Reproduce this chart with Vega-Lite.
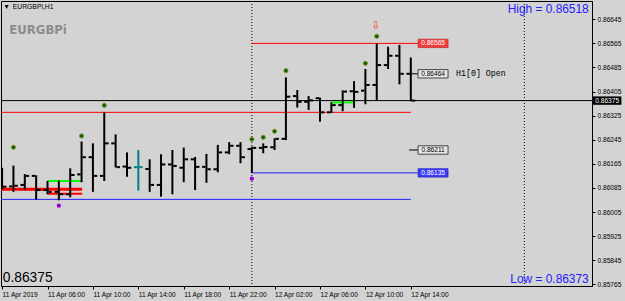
{
 "$schema": "https://vega.github.io/schema/vega-lite/v6.json",
 "width": 591, "height": 285,
 "autosize": {"type": "none"},
 "padding": {"left": 1, "top": 1, "right": 33, "bottom": 15},
 "background": "#D3D3D3",
 "config": {
  "view": {"stroke": "#000000", "strokeWidth": 1, "fill": "#D3D3D3"},
  "font": "Liberation Sans",
  "axis": {"grid": false, "domain": true, "domainColor": "#000000", "ticks": true, "tickColor": "#000000", "tickSize": 3,
   "labelFont": "Liberation Sans", "labelFontSize": 6.6, "labelColor": "#000000", "labelPadding": 2, "labelFlush": false, "labelOverlap": false}
 },
 "datasets": {
  "bars": [
   {"h": 2, "o": 0.86085, "hi": 0.86152, "lo": 0.86080, "c": 0.86089},
   {"h": 3, "o": 0.86090, "hi": 0.86159, "lo": 0.86072, "c": 0.86092},
   {"h": 4, "o": 0.86095, "hi": 0.86131, "lo": 0.86078, "c": 0.86125},
   {"h": 5, "o": 0.86125, "hi": 0.86127, "lo": 0.86047, "c": 0.86078},
   {"h": 6, "o": 0.86078, "hi": 0.86108, "lo": 0.86064, "c": 0.86072},
   {"h": 7, "o": 0.86072, "hi": 0.86110, "lo": 0.86044, "c": 0.86064},
   {"h": 8, "o": 0.86064, "hi": 0.86150, "lo": 0.86054, "c": 0.86128},
   {"h": 9, "o": 0.86130, "hi": 0.86239, "lo": 0.86104, "c": 0.86187},
   {"h": 10, "o": 0.86187, "hi": 0.86233, "lo": 0.86072, "c": 0.86125},
   {"h": 11, "o": 0.86125, "hi": 0.86336, "lo": 0.86108, "c": 0.86233},
   {"h": 12, "o": 0.86233, "hi": 0.86263, "lo": 0.86153, "c": 0.86154},
   {"h": 13, "o": 0.86156, "hi": 0.86203, "lo": 0.86122, "c": 0.86152},
   {"h": 14, "o": 0.86154, "hi": 0.86211, "lo": 0.86076, "c": 0.86154},
   {"h": 15, "o": 0.86148, "hi": 0.86180, "lo": 0.86072, "c": 0.86095},
   {"h": 16, "o": 0.86095, "hi": 0.86197, "lo": 0.86056, "c": 0.86163},
   {"h": 17, "o": 0.86163, "hi": 0.86211, "lo": 0.86064, "c": 0.86158},
   {"h": 18, "o": 0.86152, "hi": 0.86219, "lo": 0.86104, "c": 0.86180},
   {"h": 19, "o": 0.86180, "hi": 0.86188, "lo": 0.86078, "c": 0.86155},
   {"h": 20, "o": 0.86155, "hi": 0.86198, "lo": 0.86102, "c": 0.86147},
   {"h": 21, "o": 0.86147, "hi": 0.86228, "lo": 0.86137, "c": 0.86203},
   {"h": 22, "o": 0.86203, "hi": 0.86237, "lo": 0.86197, "c": 0.86225},
   {"h": 23, "o": 0.86225, "hi": 0.86237, "lo": 0.86167, "c": 0.86187},
   {"h": 24, "o": 0.86214, "hi": 0.86222, "lo": 0.86135, "c": 0.86218},
   {"h": 25, "o": 0.86218, "hi": 0.86233, "lo": 0.86200, "c": 0.86221},
   {"h": 26, "o": 0.86220, "hi": 0.86250, "lo": 0.86211, "c": 0.86248},
   {"h": 27, "o": 0.86248, "hi": 0.86452, "lo": 0.86244, "c": 0.86388},
   {"h": 28, "o": 0.86390, "hi": 0.86410, "lo": 0.86352, "c": 0.86371},
   {"h": 29, "o": 0.86371, "hi": 0.86390, "lo": 0.86344, "c": 0.86376},
   {"h": 30, "o": 0.86383, "hi": 0.86385, "lo": 0.86305, "c": 0.86336},
   {"h": 31, "o": 0.86336, "hi": 0.86369, "lo": 0.86334, "c": 0.86360},
   {"h": 32, "o": 0.86360, "hi": 0.86409, "lo": 0.86340, "c": 0.86405},
   {"h": 33, "o": 0.86406, "hi": 0.86440, "lo": 0.86351, "c": 0.86404},
   {"h": 34, "o": 0.86408, "hi": 0.86480, "lo": 0.86363, "c": 0.86427},
   {"h": 35, "o": 0.86427, "hi": 0.86565, "lo": 0.86376, "c": 0.86493},
   {"h": 36, "o": 0.86493, "hi": 0.86554, "lo": 0.86480, "c": 0.86524},
   {"h": 37, "o": 0.86524, "hi": 0.86560, "lo": 0.86429, "c": 0.86464},
   {"h": 38, "o": 0.86464, "hi": 0.86518, "lo": 0.86373, "c": 0.86375}
  ]
 },
 "layer": [
  {
   "data": {"values": [{"h": 24}, {"h": 48}]},
   "mark": {"type": "rule", "color": "#000000", "strokeWidth": 1, "strokeDash": [1, 2]},
   "encoding": {
    "x": {"field": "h", "type": "quantitative", "scale": {"domain": [1.904, 53.96], "nice": false, "zero": false},
     "axis": {"orient": "bottom", "values": [2, 6, 10, 14, 18, 22, 26, 30, 34, 38], "labelExpr": "datum.value == 2 ? '11 Apr 2019' : (datum.value < 24 ? '11 Apr ' : '12 Apr ') + (datum.value % 24 < 10 ? '0' : '') + (datum.value % 24) + ':00'", "labelAlign": "left", "title": null}}
   }
  },
  {
   "data": {"values": [{"v": 0.86336, "h": 0, "h2": 38}, {"v": 0.86565, "h": 24, "h2": 38.64}]},
   "mark": {"type": "rule", "color": "#FF0000", "strokeWidth": 1, "clip": true},
   "encoding": {
    "x": {"field": "h", "type": "quantitative", "scale": {"domain": [1.904, 53.96], "nice": false, "zero": false},
     "axis": {"orient": "bottom", "values": [2, 6, 10, 14, 18, 22, 26, 30, 34, 38], "labelExpr": "datum.value == 2 ? '11 Apr 2019' : (datum.value < 24 ? '11 Apr ' : '12 Apr ') + (datum.value % 24 < 10 ? '0' : '') + (datum.value % 24) + ':00'", "labelAlign": "left", "title": null}},
    "x2": {"field": "h2"},
    "y": {"field": "v", "type": "quantitative", "scale": {"domain": [0.857593, 0.867058], "nice": false, "zero": false},
     "axis": {"orient": "right", "values": [0.85765, 0.85845, 0.85925, 0.86005, 0.86085, 0.86165, 0.86245, 0.86325, 0.86405, 0.86485, 0.86565, 0.86645], "format": ".5f", "title": null}}
   }
  },
  {
   "data": {"values": [{"v": 0.86047, "h": 0, "h2": 38}, {"v": 0.86135, "h": 24, "h2": 38.64}]},
   "mark": {"type": "rule", "color": "#2020FF", "strokeWidth": 1, "clip": true},
   "encoding": {
    "x": {"field": "h", "type": "quantitative", "scale": {"domain": [1.904, 53.96], "nice": false, "zero": false},
     "axis": {"orient": "bottom", "values": [2, 6, 10, 14, 18, 22, 26, 30, 34, 38], "labelExpr": "datum.value == 2 ? '11 Apr 2019' : (datum.value < 24 ? '11 Apr ' : '12 Apr ') + (datum.value % 24 < 10 ? '0' : '') + (datum.value % 24) + ':00'", "labelAlign": "left", "title": null}},
    "x2": {"field": "h2"},
    "y": {"field": "v", "type": "quantitative", "scale": {"domain": [0.857593, 0.867058], "nice": false, "zero": false},
     "axis": {"orient": "right", "values": [0.85765, 0.85845, 0.85925, 0.86005, 0.86085, 0.86165, 0.86245, 0.86325, 0.86405, 0.86485, 0.86565, 0.86645], "format": ".5f", "title": null}}
   }
  },
  {
   "data": {"values": [{"v": 0.86375, "h": 0, "h2": 60}, {"v": 0.86464, "h": 37.84, "h2": 38.64}, {"v": 0.86211, "h": 37.84, "h2": 38.64}]},
   "mark": {"type": "rule", "color": "#000000", "strokeWidth": 1, "clip": true},
   "encoding": {
    "x": {"field": "h", "type": "quantitative", "scale": {"domain": [1.904, 53.96], "nice": false, "zero": false},
     "axis": {"orient": "bottom", "values": [2, 6, 10, 14, 18, 22, 26, 30, 34, 38], "labelExpr": "datum.value == 2 ? '11 Apr 2019' : (datum.value < 24 ? '11 Apr ' : '12 Apr ') + (datum.value % 24 < 10 ? '0' : '') + (datum.value % 24) + ':00'", "labelAlign": "left", "title": null}},
    "x2": {"field": "h2"},
    "y": {"field": "v", "type": "quantitative", "scale": {"domain": [0.857593, 0.867058], "nice": false, "zero": false},
     "axis": {"orient": "right", "values": [0.85765, 0.85845, 0.85925, 0.86005, 0.86085, 0.86165, 0.86245, 0.86325, 0.86405, 0.86485, 0.86565, 0.86645], "format": ".5f", "title": null}}
   }
  },
  {
   "data": {"values": [{"v": 0.86108, "h": 6, "h2": 9.05}, {"v": 0.86369, "h": 31, "h2": 32.93}]},
   "mark": {"type": "rule", "color": "#00FF00", "strokeWidth": 2, "clip": true},
   "encoding": {
    "x": {"field": "h", "type": "quantitative", "scale": {"domain": [1.904, 53.96], "nice": false, "zero": false},
     "axis": {"orient": "bottom", "values": [2, 6, 10, 14, 18, 22, 26, 30, 34, 38], "labelExpr": "datum.value == 2 ? '11 Apr 2019' : (datum.value < 24 ? '11 Apr ' : '12 Apr ') + (datum.value % 24 < 10 ? '0' : '') + (datum.value % 24) + ':00'", "labelAlign": "left", "title": null}},
    "x2": {"field": "h2"},
    "y": {"field": "v", "type": "quantitative", "scale": {"domain": [0.857593, 0.867058], "nice": false, "zero": false},
     "axis": {"orient": "right", "values": [0.85765, 0.85845, 0.85925, 0.86005, 0.86085, 0.86165, 0.86245, 0.86325, 0.86405, 0.86485, 0.86565, 0.86645], "format": ".5f", "title": null}}
   }
  },
  {
   "data": {"values": [{"v": 0.86081, "h": 0, "h2": 9.05}]},
   "mark": {"type": "rule", "color": "#FF0000", "strokeWidth": 3, "clip": true},
   "encoding": {
    "x": {"field": "h", "type": "quantitative", "scale": {"domain": [1.904, 53.96], "nice": false, "zero": false},
     "axis": {"orient": "bottom", "values": [2, 6, 10, 14, 18, 22, 26, 30, 34, 38], "labelExpr": "datum.value == 2 ? '11 Apr 2019' : (datum.value < 24 ? '11 Apr ' : '12 Apr ') + (datum.value % 24 < 10 ? '0' : '') + (datum.value % 24) + ':00'", "labelAlign": "left", "title": null}},
    "x2": {"field": "h2"},
    "y": {"field": "v", "type": "quantitative", "scale": {"domain": [0.857593, 0.867058], "nice": false, "zero": false},
     "axis": {"orient": "right", "values": [0.85765, 0.85845, 0.85925, 0.86005, 0.86085, 0.86165, 0.86245, 0.86325, 0.86405, 0.86485, 0.86565, 0.86645], "format": ".5f", "title": null}}
   }
  },
  {
   "data": {"values": [{"v": 0.86066, "h": 6, "h2": 9.05}]},
   "mark": {"type": "rule", "color": "#FF0000", "strokeWidth": 2, "clip": true},
   "encoding": {
    "x": {"field": "h", "type": "quantitative", "scale": {"domain": [1.904, 53.96], "nice": false, "zero": false},
     "axis": {"orient": "bottom", "values": [2, 6, 10, 14, 18, 22, 26, 30, 34, 38], "labelExpr": "datum.value == 2 ? '11 Apr 2019' : (datum.value < 24 ? '11 Apr ' : '12 Apr ') + (datum.value % 24 < 10 ? '0' : '') + (datum.value % 24) + ':00'", "labelAlign": "left", "title": null}},
    "x2": {"field": "h2"},
    "y": {"field": "v", "type": "quantitative", "scale": {"domain": [0.857593, 0.867058], "nice": false, "zero": false},
     "axis": {"orient": "right", "values": [0.85765, 0.85845, 0.85925, 0.86005, 0.86085, 0.86165, 0.86245, 0.86325, 0.86405, 0.86485, 0.86565, 0.86645], "format": ".5f", "title": null}}
   }
  },
  {
   "data": {"name": "bars"},
   "mark": {"type": "rule", "strokeWidth": 2, "clip": true},
   "encoding": {
    "x": {"field": "h", "type": "quantitative", "scale": {"domain": [1.904, 53.96], "nice": false, "zero": false},
     "axis": {"orient": "bottom", "values": [2, 6, 10, 14, 18, 22, 26, 30, 34, 38], "labelExpr": "datum.value == 2 ? '11 Apr 2019' : (datum.value < 24 ? '11 Apr ' : '12 Apr ') + (datum.value % 24 < 10 ? '0' : '') + (datum.value % 24) + ':00'", "labelAlign": "left", "title": null}},
    "y": {"field": "lo", "type": "quantitative", "scale": {"domain": [0.857593, 0.867058], "nice": false, "zero": false},
     "axis": {"orient": "right", "values": [0.85765, 0.85845, 0.85925, 0.86005, 0.86085, 0.86165, 0.86245, 0.86325, 0.86405, 0.86485, 0.86565, 0.86645], "format": ".5f", "title": null}},
    "y2": {"field": "hi"},
    "color": {"condition": {"test": "datum.o == datum.c", "value": "#008080"}, "value": "#000000"}
   }
  },
  {
   "data": {"name": "bars"},
   "mark": {"type": "tick", "orient": "horizontal", "size": 3.5, "thickness": 2, "xOffset": -2.6, "opacity": 1, "clip": true},
   "encoding": {
    "x": {"field": "h", "type": "quantitative", "scale": {"domain": [1.904, 53.96], "nice": false, "zero": false},
     "axis": {"orient": "bottom", "values": [2, 6, 10, 14, 18, 22, 26, 30, 34, 38], "labelExpr": "datum.value == 2 ? '11 Apr 2019' : (datum.value < 24 ? '11 Apr ' : '12 Apr ') + (datum.value % 24 < 10 ? '0' : '') + (datum.value % 24) + ':00'", "labelAlign": "left", "title": null}},
    "y": {"field": "o", "type": "quantitative", "scale": {"domain": [0.857593, 0.867058], "nice": false, "zero": false},
     "axis": {"orient": "right", "values": [0.85765, 0.85845, 0.85925, 0.86005, 0.86085, 0.86165, 0.86245, 0.86325, 0.86405, 0.86485, 0.86565, 0.86645], "format": ".5f", "title": null}},
    "color": {"condition": {"test": "datum.o == datum.c", "value": "#008080"}, "value": "#000000"}
   }
  },
  {
   "data": {"name": "bars"},
   "mark": {"type": "tick", "orient": "horizontal", "size": 3.5, "thickness": 2, "xOffset": 2.6, "opacity": 1, "clip": true},
   "encoding": {
    "x": {"field": "h", "type": "quantitative", "scale": {"domain": [1.904, 53.96], "nice": false, "zero": false},
     "axis": {"orient": "bottom", "values": [2, 6, 10, 14, 18, 22, 26, 30, 34, 38], "labelExpr": "datum.value == 2 ? '11 Apr 2019' : (datum.value < 24 ? '11 Apr ' : '12 Apr ') + (datum.value % 24 < 10 ? '0' : '') + (datum.value % 24) + ':00'", "labelAlign": "left", "title": null}},
    "y": {"field": "c", "type": "quantitative", "scale": {"domain": [0.857593, 0.867058], "nice": false, "zero": false},
     "axis": {"orient": "right", "values": [0.85765, 0.85845, 0.85925, 0.86005, 0.86085, 0.86165, 0.86245, 0.86325, 0.86405, 0.86485, 0.86565, 0.86645], "format": ".5f", "title": null}},
    "color": {"condition": {"test": "datum.o == datum.c", "value": "#008080"}, "value": "#000000"}
   }
  },
  {
   "data": {"values": [
    {"h": 3, "v": 0.862199}, {"h": 9, "v": 0.862575}, {"h": 11, "v": 0.863594},
    {"h": 24, "v": 0.862465}, {"h": 25, "v": 0.862531}, {"h": 26, "v": 0.862731},
    {"h": 27, "v": 0.864743}, {"h": 34, "v": 0.864989}, {"h": 35, "v": 0.865886}]},
   "mark": {"type": "point", "shape": "circle", "filled": true, "size": 18, "color": "#0A640A", "stroke": "#8C8C20", "strokeWidth": 0.8, "opacity": 1},
   "encoding": {
    "x": {"field": "h", "type": "quantitative", "scale": {"domain": [1.904, 53.96], "nice": false, "zero": false},
     "axis": {"orient": "bottom", "values": [2, 6, 10, 14, 18, 22, 26, 30, 34, 38], "labelExpr": "datum.value == 2 ? '11 Apr 2019' : (datum.value < 24 ? '11 Apr ' : '12 Apr ') + (datum.value % 24 < 10 ? '0' : '') + (datum.value % 24) + ':00'", "labelAlign": "left", "title": null}},
    "y": {"field": "v", "type": "quantitative", "scale": {"domain": [0.857593, 0.867058], "nice": false, "zero": false},
     "axis": {"orient": "right", "values": [0.85765, 0.85845, 0.85925, 0.86005, 0.86085, 0.86165, 0.86245, 0.86325, 0.86405, 0.86485, 0.86565, 0.86645], "format": ".5f", "title": null}}
   }
  },
  {
   "data": {"values": [{"h": 7, "v": 0.86026}, {"h": 24, "v": 0.861156}]},
   "mark": {"type": "point", "shape": "circle", "filled": true, "size": 18, "color": "#9400D3", "opacity": 1},
   "encoding": {
    "x": {"field": "h", "type": "quantitative", "scale": {"domain": [1.904, 53.96], "nice": false, "zero": false},
     "axis": {"orient": "bottom", "values": [2, 6, 10, 14, 18, 22, 26, 30, 34, 38], "labelExpr": "datum.value == 2 ? '11 Apr 2019' : (datum.value < 24 ? '11 Apr ' : '12 Apr ') + (datum.value % 24 < 10 ? '0' : '') + (datum.value % 24) + ':00'", "labelAlign": "left", "title": null}},
    "y": {"field": "v", "type": "quantitative", "scale": {"domain": [0.857593, 0.867058], "nice": false, "zero": false},
     "axis": {"orient": "right", "values": [0.85765, 0.85845, 0.85925, 0.86005, 0.86085, 0.86165, 0.86245, 0.86325, 0.86405, 0.86485, 0.86565, 0.86645], "format": ".5f", "title": null}}
   }
  },
  {
   "data": {"values": [{"h": 38.64, "h2": 41.28, "v": 0.865511, "v2": 0.865789}]},
   "mark": {"type": "rect", "color": "#F03C3C", "stroke": "#C83030", "strokeWidth": 0.8},
   "encoding": {
    "x": {"field": "h", "type": "quantitative", "scale": {"domain": [1.904, 53.96], "nice": false, "zero": false},
     "axis": {"orient": "bottom", "values": [2, 6, 10, 14, 18, 22, 26, 30, 34, 38], "labelExpr": "datum.value == 2 ? '11 Apr 2019' : (datum.value < 24 ? '11 Apr ' : '12 Apr ') + (datum.value % 24 < 10 ? '0' : '') + (datum.value % 24) + ':00'", "labelAlign": "left", "title": null}},
    "x2": {"field": "h2"},
    "y": {"field": "v", "type": "quantitative", "scale": {"domain": [0.857593, 0.867058], "nice": false, "zero": false},
     "axis": {"orient": "right", "values": [0.85765, 0.85845, 0.85925, 0.86005, 0.86085, 0.86165, 0.86245, 0.86325, 0.86405, 0.86485, 0.86565, 0.86645], "format": ".5f", "title": null}},
    "y2": {"field": "v2"}
   }
  },
  {
   "data": {"values": [{"h": 38.64, "h2": 41.28, "v": 0.861211, "v2": 0.861489}]},
   "mark": {"type": "rect", "color": "#3C3CF0", "stroke": "#3030C8", "strokeWidth": 0.8},
   "encoding": {
    "x": {"field": "h", "type": "quantitative", "scale": {"domain": [1.904, 53.96], "nice": false, "zero": false},
     "axis": {"orient": "bottom", "values": [2, 6, 10, 14, 18, 22, 26, 30, 34, 38], "labelExpr": "datum.value == 2 ? '11 Apr 2019' : (datum.value < 24 ? '11 Apr ' : '12 Apr ') + (datum.value % 24 < 10 ? '0' : '') + (datum.value % 24) + ':00'", "labelAlign": "left", "title": null}},
    "x2": {"field": "h2"},
    "y": {"field": "v", "type": "quantitative", "scale": {"domain": [0.857593, 0.867058], "nice": false, "zero": false},
     "axis": {"orient": "right", "values": [0.85765, 0.85845, 0.85925, 0.86005, 0.86085, 0.86165, 0.86245, 0.86325, 0.86405, 0.86485, 0.86565, 0.86645], "format": ".5f", "title": null}},
    "y2": {"field": "v2"}
   }
  },
  {
   "data": {"values": [{"h": 38.64, "h2": 41.28, "v": 0.864501, "v2": 0.864779}, {"h": 38.64, "h2": 41.28, "v": 0.861971, "v2": 0.862249}]},
   "mark": {"type": "rect", "color": "#E6E6E6", "stroke": "#202020", "strokeWidth": 0.8},
   "encoding": {
    "x": {"field": "h", "type": "quantitative", "scale": {"domain": [1.904, 53.96], "nice": false, "zero": false},
     "axis": {"orient": "bottom", "values": [2, 6, 10, 14, 18, 22, 26, 30, 34, 38], "labelExpr": "datum.value == 2 ? '11 Apr 2019' : (datum.value < 24 ? '11 Apr ' : '12 Apr ') + (datum.value % 24 < 10 ? '0' : '') + (datum.value % 24) + ':00'", "labelAlign": "left", "title": null}},
    "x2": {"field": "h2"},
    "y": {"field": "v", "type": "quantitative", "scale": {"domain": [0.857593, 0.867058], "nice": false, "zero": false},
     "axis": {"orient": "right", "values": [0.85765, 0.85845, 0.85925, 0.86005, 0.86085, 0.86165, 0.86245, 0.86325, 0.86405, 0.86485, 0.86565, 0.86645], "format": ".5f", "title": null}},
    "y2": {"field": "v2"}
   }
  },
  {
   "data": {"values": [{"h": 54.05, "h2": 56.55, "v": 0.863611, "v2": 0.863889}]},
   "mark": {"type": "rect", "color": "#000000"},
   "encoding": {
    "x": {"field": "h", "type": "quantitative", "scale": {"domain": [1.904, 53.96], "nice": false, "zero": false},
     "axis": {"orient": "bottom", "values": [2, 6, 10, 14, 18, 22, 26, 30, 34, 38], "labelExpr": "datum.value == 2 ? '11 Apr 2019' : (datum.value < 24 ? '11 Apr ' : '12 Apr ') + (datum.value % 24 < 10 ? '0' : '') + (datum.value % 24) + ':00'", "labelAlign": "left", "title": null}},
    "x2": {"field": "h2"},
    "y": {"field": "v", "type": "quantitative", "scale": {"domain": [0.857593, 0.867058], "nice": false, "zero": false},
     "axis": {"orient": "right", "values": [0.85765, 0.85845, 0.85925, 0.86005, 0.86085, 0.86165, 0.86245, 0.86325, 0.86405, 0.86485, 0.86565, 0.86645], "format": ".5f", "title": null}},
    "y2": {"field": "v2"}
   }
  },
  {
   "data": {"values": [{"h": 39.96, "v": 0.86565, "t": "0.86565"}, {"h": 39.96, "v": 0.86135, "t": "0.86135"}, {"h": 55.3, "v": 0.86375, "t": "0.86375"}]},
   "mark": {"type": "text", "font": "Liberation Sans", "fontSize": 6.6, "color": "#FFFFFF", "align": "center", "baseline": "middle"},
   "encoding": {
    "x": {"field": "h", "type": "quantitative", "scale": {"domain": [1.904, 53.96], "nice": false, "zero": false},
     "axis": {"orient": "bottom", "values": [2, 6, 10, 14, 18, 22, 26, 30, 34, 38], "labelExpr": "datum.value == 2 ? '11 Apr 2019' : (datum.value < 24 ? '11 Apr ' : '12 Apr ') + (datum.value % 24 < 10 ? '0' : '') + (datum.value % 24) + ':00'", "labelAlign": "left", "title": null}},
    "y": {"field": "v", "type": "quantitative", "scale": {"domain": [0.857593, 0.867058], "nice": false, "zero": false},
     "axis": {"orient": "right", "values": [0.85765, 0.85845, 0.85925, 0.86005, 0.86085, 0.86165, 0.86245, 0.86325, 0.86405, 0.86485, 0.86565, 0.86645], "format": ".5f", "title": null}},
    "text": {"field": "t"}
   }
  },
  {
   "data": {"values": [{"h": 39.96, "v": 0.86464, "t": "0.86464"}, {"h": 39.96, "v": 0.86211, "t": "0.86211"}]},
   "mark": {"type": "text", "font": "Liberation Sans", "fontSize": 6.6, "color": "#000000", "align": "center", "baseline": "middle"},
   "encoding": {
    "x": {"field": "h", "type": "quantitative", "scale": {"domain": [1.904, 53.96], "nice": false, "zero": false},
     "axis": {"orient": "bottom", "values": [2, 6, 10, 14, 18, 22, 26, 30, 34, 38], "labelExpr": "datum.value == 2 ? '11 Apr 2019' : (datum.value < 24 ? '11 Apr ' : '12 Apr ') + (datum.value % 24 < 10 ? '0' : '') + (datum.value % 24) + ':00'", "labelAlign": "left", "title": null}},
    "y": {"field": "v", "type": "quantitative", "scale": {"domain": [0.857593, 0.867058], "nice": false, "zero": false},
     "axis": {"orient": "right", "values": [0.85765, 0.85845, 0.85925, 0.86005, 0.86085, 0.86165, 0.86245, 0.86325, 0.86405, 0.86485, 0.86565, 0.86645], "format": ".5f", "title": null}},
    "text": {"field": "t"}
   }
  },
  {
   "data": {"values": [{"h": 41.98, "v": 0.86464, "t": "H1[0] Open"}]},
   "mark": {"type": "text", "font": "Liberation Mono", "fontSize": 8.3, "color": "#000000", "align": "left", "baseline": "middle"},
   "encoding": {
    "x": {"field": "h", "type": "quantitative", "scale": {"domain": [1.904, 53.96], "nice": false, "zero": false},
     "axis": {"orient": "bottom", "values": [2, 6, 10, 14, 18, 22, 26, 30, 34, 38], "labelExpr": "datum.value == 2 ? '11 Apr 2019' : (datum.value < 24 ? '11 Apr ' : '12 Apr ') + (datum.value % 24 < 10 ? '0' : '') + (datum.value % 24) + ':00'", "labelAlign": "left", "title": null}},
    "y": {"field": "v", "type": "quantitative", "scale": {"domain": [0.857593, 0.867058], "nice": false, "zero": false},
     "axis": {"orient": "right", "values": [0.85765, 0.85845, 0.85925, 0.86005, 0.86085, 0.86165, 0.86245, 0.86325, 0.86405, 0.86485, 0.86565, 0.86645], "format": ".5f", "title": null}},
    "text": {"field": "t"}
   }
  },
  {
   "data": {"values": [{"h": 53.67, "v": 0.866669, "t": "High = 0.86518"}, {"h": 53.67, "v": 0.857702, "t": "Low = 0.86373"}]},
   "mark": {"type": "text", "font": "Liberation Sans", "fontSize": 11.9, "color": "#2222FF", "align": "right", "baseline": "alphabetic"},
   "encoding": {
    "x": {"field": "h", "type": "quantitative", "scale": {"domain": [1.904, 53.96], "nice": false, "zero": false},
     "axis": {"orient": "bottom", "values": [2, 6, 10, 14, 18, 22, 26, 30, 34, 38], "labelExpr": "datum.value == 2 ? '11 Apr 2019' : (datum.value < 24 ? '11 Apr ' : '12 Apr ') + (datum.value % 24 < 10 ? '0' : '') + (datum.value % 24) + ':00'", "labelAlign": "left", "title": null}},
    "y": {"field": "v", "type": "quantitative", "scale": {"domain": [0.857593, 0.867058], "nice": false, "zero": false},
     "axis": {"orient": "right", "values": [0.85765, 0.85845, 0.85925, 0.86005, 0.86085, 0.86165, 0.86245, 0.86325, 0.86405, 0.86485, 0.86565, 0.86645], "format": ".5f", "title": null}},
    "text": {"field": "t"}
   }
  },
  {
   "data": {"values": [{"h": 2.054, "v": 0.857716, "t": "0.86375"}]},
   "mark": {"type": "text", "font": "Liberation Sans", "fontSize": 13.8, "color": "#000000", "align": "left", "baseline": "alphabetic"},
   "encoding": {
    "x": {"field": "h", "type": "quantitative", "scale": {"domain": [1.904, 53.96], "nice": false, "zero": false},
     "axis": {"orient": "bottom", "values": [2, 6, 10, 14, 18, 22, 26, 30, 34, 38], "labelExpr": "datum.value == 2 ? '11 Apr 2019' : (datum.value < 24 ? '11 Apr ' : '12 Apr ') + (datum.value % 24 < 10 ? '0' : '') + (datum.value % 24) + ':00'", "labelAlign": "left", "title": null}},
    "y": {"field": "v", "type": "quantitative", "scale": {"domain": [0.857593, 0.867058], "nice": false, "zero": false},
     "axis": {"orient": "right", "values": [0.85765, 0.85845, 0.85925, 0.86005, 0.86085, 0.86165, 0.86245, 0.86325, 0.86405, 0.86485, 0.86565, 0.86645], "format": ".5f", "title": null}},
    "text": {"field": "t"}
   }
  },
  {
   "data": {"values": [{"h": 2.635, "v": 0.866111, "t": "EURGBPi"}]},
   "mark": {"type": "text", "font": "DejaVu Sans Condensed", "fontWeight": "bold", "fontSize": 13, "color": "#8C8C8C", "align": "left", "baseline": "middle"},
   "encoding": {
    "x": {"field": "h", "type": "quantitative", "scale": {"domain": [1.904, 53.96], "nice": false, "zero": false},
     "axis": {"orient": "bottom", "values": [2, 6, 10, 14, 18, 22, 26, 30, 34, 38], "labelExpr": "datum.value == 2 ? '11 Apr 2019' : (datum.value < 24 ? '11 Apr ' : '12 Apr ') + (datum.value % 24 < 10 ? '0' : '') + (datum.value % 24) + ':00'", "labelAlign": "left", "title": null}},
    "y": {"field": "v", "type": "quantitative", "scale": {"domain": [0.857593, 0.867058], "nice": false, "zero": false},
     "axis": {"orient": "right", "values": [0.85765, 0.85845, 0.85925, 0.86005, 0.86085, 0.86165, 0.86245, 0.86325, 0.86405, 0.86485, 0.86565, 0.86645], "format": ".5f", "title": null}},
    "text": {"field": "t"}
   }
  },
  {
   "data": {"values": [{"h": 2.935, "v": 0.866859, "t": "EURGBPi,H1"}, {"h": 2.1, "v": 0.866859, "t": "▼"}]},
   "mark": {"type": "text", "font": "Liberation Sans", "fontSize": 6.8, "color": "#000000", "align": "left", "baseline": "middle"},
   "encoding": {
    "x": {"field": "h", "type": "quantitative", "scale": {"domain": [1.904, 53.96], "nice": false, "zero": false},
     "axis": {"orient": "bottom", "values": [2, 6, 10, 14, 18, 22, 26, 30, 34, 38], "labelExpr": "datum.value == 2 ? '11 Apr 2019' : (datum.value < 24 ? '11 Apr ' : '12 Apr ') + (datum.value % 24 < 10 ? '0' : '') + (datum.value % 24) + ':00'", "labelAlign": "left", "title": null}},
    "y": {"field": "v", "type": "quantitative", "scale": {"domain": [0.857593, 0.867058], "nice": false, "zero": false},
     "axis": {"orient": "right", "values": [0.85765, 0.85845, 0.85925, 0.86005, 0.86085, 0.86165, 0.86245, 0.86325, 0.86405, 0.86485, 0.86565, 0.86645], "format": ".5f", "title": null}},
    "text": {"field": "t"}
   }
  },
  {
   "data": {"values": [{"h": 34.93, "v": 0.866228, "t": "⇩"}]},
   "mark": {"type": "text", "font": "DejaVu Sans", "fontSize": 11, "color": "#FF3C3C", "align": "center", "baseline": "middle"},
   "encoding": {
    "x": {"field": "h", "type": "quantitative", "scale": {"domain": [1.904, 53.96], "nice": false, "zero": false},
     "axis": {"orient": "bottom", "values": [2, 6, 10, 14, 18, 22, 26, 30, 34, 38], "labelExpr": "datum.value == 2 ? '11 Apr 2019' : (datum.value < 24 ? '11 Apr ' : '12 Apr ') + (datum.value % 24 < 10 ? '0' : '') + (datum.value % 24) + ':00'", "labelAlign": "left", "title": null}},
    "y": {"field": "v", "type": "quantitative", "scale": {"domain": [0.857593, 0.867058], "nice": false, "zero": false},
     "axis": {"orient": "right", "values": [0.85765, 0.85845, 0.85925, 0.86005, 0.86085, 0.86165, 0.86245, 0.86325, 0.86405, 0.86485, 0.86565, 0.86645], "format": ".5f", "title": null}},
    "text": {"field": "t"}
   }
  }
 ]
}
